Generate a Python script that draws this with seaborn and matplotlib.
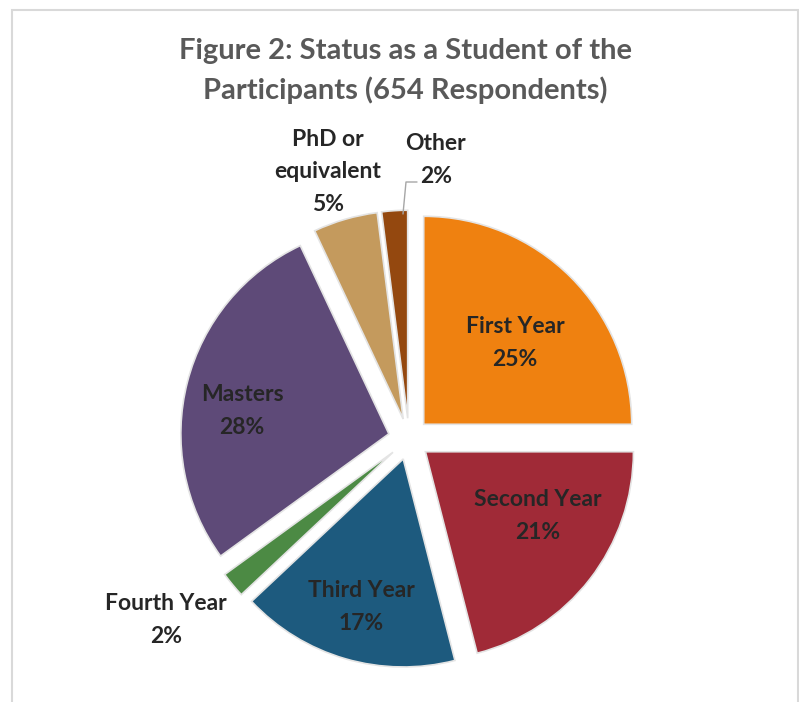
import matplotlib.pyplot as plt
import matplotlib.patches as mpatches
import seaborn as sns

# Data (percent of 654 respondents)
categories = ['First Year', 'Second Year', 'Third Year', 'Fourth Year',
              'Masters', 'PhD or\nequivalent', 'Other']
shares = [25, 21, 17, 2, 28, 5, 2]
slice_colors = ['#EF8110', '#A02A37', '#1D5A7E', '#4C8A44',
                '#5E4A78', '#C49A5D', '#94480F']

sns.set_theme(style='white')
plt.rcParams['font.family'] = ['Lato', 'DejaVu Sans']

W, H = 799, 702
CX, CY, R = 409, 439, 208  # pie centre / radius in pixels


def px(x, y):
    # pixel position -> data coordinates of the pie axes
    return (x - CX) / R, (CY - y) / R


fig = plt.figure(figsize=(W / 100, H / 100), dpi=100)
ax = fig.add_axes([0, 0, 1, 1])

wedges, _ = ax.pie(shares, colors=slice_colors, startangle=90, counterclock=False,
                   explode=[0.1] * len(shares), radius=1,
                   wedgeprops=dict(edgecolor='#E4E4E4', linewidth=1.2))
ax.set_xlim(-CX / R, (W - CX) / R)
ax.set_ylim(-(H - CY) / R, CY / R)
ax.set_aspect('auto')
ax.axis('off')

# label centres in pixels
label_pos = [(515, 343), (538, 516), (361, 607), (166, 620),
             (242, 411), (328, 172), (436, 160)]
for name, pct, (lx, ly) in zip(categories, shares, label_pos):
    x, y = px(lx, ly)
    ax.text(x, y, f'{name}\n{pct}%', ha='center', va='center', fontsize=16.5,
            fontweight='bold', color='#262626', linespacing=1.65)

# leader line for "Other"
lx, ly = zip(*[px(403, 214), px(406, 182), px(417, 182)])
ax.plot(lx, ly, color='#A6A6A6', lw=1)

fig.text(405 / W, 1 - 71 / H, 'Figure 2: Status as a Student of the\nParticipants (654 Respondents)',
         ha='center', va='center', fontsize=21, fontweight='bold', color='#595959',
         linespacing=1.55)

# chart frame
fig.patches.append(mpatches.Rectangle((12 / W, -0.05), 786 / W, 1 - 10 / H + 0.05,
                                      transform=fig.transFigure, fill=False,
                                      edgecolor='#D9D9D9', lw=1.5))

fig.savefig('out.png', dpi=100)
